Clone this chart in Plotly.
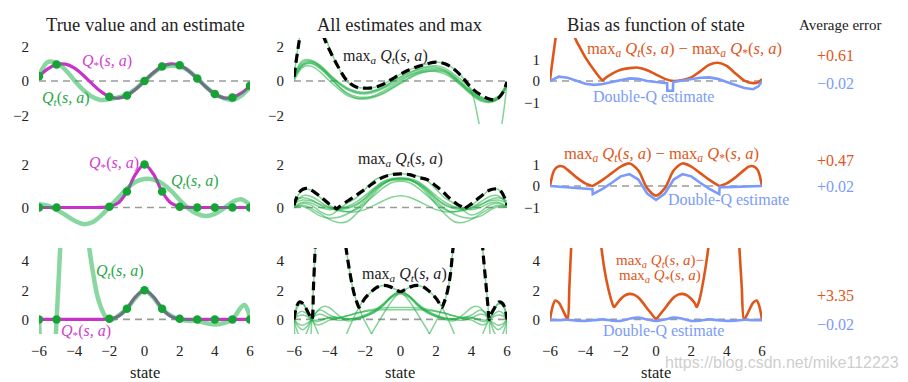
import plotly.graph_objects as go

# ---------------- data ----------------
STATES = [-6.0, -5.5, -5.0, -4.5, -4.0, -3.5, -3.0, -2.5, -2.0, -1.5, -1.0, -0.5, 0.0,
          0.5, 1.0, 1.5, 2.0, 2.5, 3.0, 3.5, 4.0, 4.5, 5.0, 5.5, 6.0]
SAMPLE_STATES = [-6, -5, -2, -1, 0, 1, 2, 3, 4, 5, 6]

# row 1: true value is a sine
QSTAR_1 = [0.28, 0.71, 0.96, 0.98, 0.76, 0.35, -0.14, -0.60, -0.91, -1.00, -0.84, -0.48, 0.00,
           0.48, 0.84, 1.00, 0.91, 0.60, 0.14, -0.35, -0.76, -0.98, -0.96, -0.71, -0.28]
QT_1 = [0.3, 1.1, 1.05, 0.65, 0.05, -0.5, -0.9, -1.1, -1.05, -0.95, -0.8, -0.45, 0.0,
        0.45, 0.8, 0.88, 0.85, 0.6, 0.15, -0.35, -0.75, -1.0, -1.1, -0.85, -0.35]
DOTS_1 = [0.28, 0.96, -0.91, -0.84, 0.0, 0.84, 0.91, 0.14, -0.76, -0.96, -0.28]

# rows 2 and 3: true value is a bump
QSTAR_2 = [0, 0, 0, 0, 0, 0, 0, 0.004, 0.04, 0.21, 0.74, 1.56, 2.0,
           1.56, 0.74, 0.21, 0.04, 0.004, 0, 0, 0, 0, 0, 0, 0]
DOTS_2 = [0, 0, 0.04, 0.74, 2.0, 0.74, 0.04, 0, 0, 0, 0]
QT_2 = [0.15, 0.08, -0.1, -0.35, -0.6, -0.77, -0.7, -0.4, 0.02, 0.45, 0.88, 1.2, 1.33,
        1.3, 1.12, 0.78, 0.35, -0.05, -0.3, -0.4, -0.3, -0.05, 0.25, 0.38, 0.12]
QT3_S = [-6.0, -5.95, -5.8, -5.5, -5.2, -5.05, -5.0, -4.9, -4.8, -4.6, -4.0, -3.5, -3.3, -3.14,
         -2.9, -2.7, -2.5, -2.3, -2.1, -1.8, -1.5, -1.0, -0.5, 0.0, 0.5, 1.0, 1.5, 2.0, 2.5,
         3.0, 3.5, 4.0, 4.5, 5.0, 5.3, 5.5, 5.7, 5.85, 6.0]
QT3_V = [0.0, -1.2, -3.5, -5.0, -3.0, -1.2, 0.0, 2.3, 4.8, 9.0, 14.0, 10.0, 7.0, 4.9,
         3.0, 1.7, 0.9, 0.35, 0.05, 0.0, 0.25, 0.74, 1.5, 2.0, 1.5, 0.72, 0.25, 0.0, -0.1,
         -0.1, -0.25, -0.35, -0.25, 0.0, 0.5, 0.85, 1.0, 0.7, 0.15]

# column 2, row 1: all estimates
EST_1 = [
    [0.2, 1.0, 1.1, 0.8, 0.3, -0.15, -0.5, -0.7, -0.75, -0.65, -0.45, -0.2, 0.1,
     0.35, 0.55, 0.7, 0.72, 0.6, 0.25, -0.2, -0.65, -1.0, -1.15, -1.0, -0.2],
    [0.3, 1.1, 1.15, 0.85, 0.35, -0.1, -0.45, -0.65, -0.7, -0.6, -0.4, -0.1, 0.2,
     0.45, 0.65, 0.78, 0.8, 0.65, 0.3, -0.15, -0.6, -0.95, -1.1, -0.95, -0.15],
    [0.1, 0.9, 1.0, 0.7, 0.2, -0.3, -0.7, -0.9, -0.95, -0.85, -0.6, -0.3, 0.0,
     0.3, 0.5, 0.62, 0.65, 0.55, 0.2, -0.25, -0.7, -1.05, -1.2, -1.05, -0.3],
    [0.0, 0.8, 0.85, 0.5, 0.0, -0.45, -0.85, -1.0, -1.0, -0.9, -0.7, -0.4, -0.1,
     0.2, 0.45, 0.55, 0.55, 0.4, 0.1, -0.35, -0.8, -1.15, -1.25, -1.05, -0.25],
    [0.25, 3.5, 5.0, 3.6, 1.9, 0.8, -0.05, -0.35, -0.42, -0.38, -0.2, 0.1, 0.4,
     0.65, 0.85, 1.0, 1.1, 1.0, 0.7, 0.2, -0.6, -2.8, -4.5, -3.5, -0.1],
    [0.2, 0.95, 1.05, 0.75, 0.25, -0.3, -0.75, -1.0, -1.05, -0.95, -0.75, -0.45, -0.15,
     0.15, 0.4, 0.55, 0.6, 0.5, 0.15, -0.3, -0.75, -1.1, -1.2, -1.0, -0.2],
    [0.35, 1.2, 1.2, 0.9, 0.4, -0.05, -0.4, -0.6, -0.65, -0.55, -0.35, -0.05, 0.25,
     0.5, 0.7, 0.85, 0.88, 0.75, 0.4, 0.0, -0.5, -0.9, -1.05, -0.9, -0.1],
]
MAX1_S = [-6.0, -5.8, -5.6, -5.0, -4.5, -4.3, -4.0, -3.5, -3.0, -2.5, -2.0, -1.5, -1.0, -0.5,
          0.0, 0.5, 1.0, 1.5, 2.0, 2.5, 3.0, 3.5, 4.0, 4.5, 5.0, 5.25, 5.5, 5.75, 6.0]
MAX1_V = [0.25, 1.7, 2.9, 5.0, 3.3, 2.5, 1.8, 0.8, 0.0, -0.35, -0.42, -0.38, -0.2, 0.1,
          0.4, 0.65, 0.85, 1.0, 1.1, 1.0, 0.7, 0.2, -0.4, -0.8, -1.05, -1.1, -1.0, -0.7, -0.05]

# column 2, row 2
EST_2 = [
    [0.0, 0.2, 0.1, -0.2, -0.35, -0.1, 0.2, 0.45, 0.85, 1.25, 1.45, 1.55, 1.57,
     1.55, 1.45, 1.25, 0.85, 0.45, 0.2, -0.1, -0.35, -0.2, 0.1, 0.2, 0.0],
    [0.1, 0.85, 0.8, 0.45, 0.1, -0.1, -0.2, -0.2, -0.1, 0.1, 0.3, 0.48, 0.55,
     0.48, 0.3, 0.1, -0.1, -0.2, -0.2, -0.1, 0.1, 0.45, 0.8, 0.85, 0.1],
    [0.2, 0.35, 0.3, 0.15, 0.0, -0.05, 0.0, 0.15, 0.45, 0.85, 1.15, 1.3, 1.32,
     1.3, 1.15, 0.85, 0.45, 0.15, 0.0, -0.05, 0.0, 0.15, 0.3, 0.35, 0.2],
    [0.3, 0.45, 0.35, 0.1, -0.05, -0.1, -0.05, 0.1, 0.4, 0.8, 1.1, 1.25, 1.28,
     1.25, 1.1, 0.8, 0.4, 0.1, -0.05, -0.1, -0.05, 0.1, 0.35, 0.45, 0.3],
    [0.05, 0.25, 0.2, 0.0, -0.1, -0.05, 0.05, 0.25, 0.55, 0.9, 1.2, 1.35, 1.38,
     1.35, 1.2, 0.9, 0.55, 0.25, 0.05, -0.05, -0.1, 0.0, 0.2, 0.25, 0.05],
    [0.0, 0.1, -0.05, -0.3, -0.55, -0.7, -0.65, -0.3, 0.15, 0.65, 1.05, 1.3, 1.35,
     1.3, 1.05, 0.65, 0.15, -0.3, -0.65, -0.7, -0.55, -0.3, -0.05, 0.1, 0.0],
    [0.15, 0.55, 0.5, 0.25, 0.0, -0.15, -0.2, -0.1, 0.2, 0.55, 0.9, 1.15, 1.22,
     1.15, 0.9, 0.55, 0.2, -0.1, -0.2, -0.15, 0.0, 0.25, 0.5, 0.55, 0.15],
    [0.0, 0.05, -0.15, -0.4, -0.5, -0.45, -0.3, -0.05, 0.3, 0.75, 1.1, 1.3, 1.35,
     1.3, 1.1, 0.75, 0.3, -0.05, -0.3, -0.45, -0.5, -0.4, -0.15, 0.05, 0.0],
]
MAX2_S = [-6.0, -5.75, -5.5, -5.25, -5.0, -4.5, -4.0, -3.7, -3.6, -3.5, -3.2, -2.8, -2.4, -2.0,
          -1.5, -1.0, -0.5, 0.0, 0.5, 1.0, 1.5, 2.0, 2.4, 2.8, 3.2, 3.5, 3.6, 3.7, 4.0, 4.5,
          5.0, 5.25, 5.5, 5.75, 6.0]
MAX2_V = [0.1, 0.65, 0.85, 0.89, 0.8, 0.5, 0.15, 0.0, -0.07, 0.0, 0.18, 0.4, 0.62, 0.85,
          1.15, 1.4, 1.53, 1.56, 1.53, 1.4, 1.3, 1.0, 0.72, 0.4, 0.15, 0.0, -0.08, 0.0, 0.17, 0.5,
          0.8, 0.86, 0.85, 0.65, 0.1]

# column 2, row 3
GRID_3 = [-6, -5.75, -5.5, -5.25, -5, -4.75, -4.5, -4.25, -4, -3.5, -3, -2.5, -2, -1.5, -1, -0.5, 0,
          0.5, 1, 1.5, 2, 2.5, 3, 3.5, 4, 4.25, 4.5, 4.75, 5, 5.25, 5.5, 5.75, 6]
EST_3 = [
    [0.0, 0.45, 0.55, 0.35, 0.0, -0.15, -0.1, 0.05, 0.15, 0.15, 0.05, 0.05, 0.2, 0.45, 0.9, 1.55, 1.9,
     1.55, 0.9, 0.45, 0.2, 0.05, 0.05, 0.15, 0.15, 0.05, -0.1, -0.15, 0.0, 0.35, 0.55, 0.45, 0.0],
    [0.0, -0.5, -0.7, -0.45, 0.0, 0.3, 0.35, 0.25, 0.1, -0.05, 0.0, 0.1, 0.3, 0.6, 1.05, 1.6, 1.85,
     1.6, 1.05, 0.6, 0.3, 0.1, 0.0, -0.05, 0.1, 0.25, 0.35, 0.3, 0.0, -0.45, -0.7, -0.5, 0.0],
    [0.0, 0.95, 1.05, 0.6, 0.0, -0.35, -0.35, -0.2, -0.05, 0.1, 0.25, 0.42, 0.58, 0.7, 0.78, 0.82, 0.82,
     0.82, 0.78, 0.7, 0.58, 0.42, 0.25, 0.1, -0.05, -0.2, -0.35, -0.35, 0.0, 0.6, 1.05, 0.95, 0.0],
    [0.0, -1.0, -1.3, -0.8, 0.0, 0.5, 0.65, 0.5, 0.3, 0.1, 0.25, 0.42, 0.55, 0.62, 0.66, 0.67, 0.67,
     0.67, 0.66, 0.62, 0.55, 0.42, 0.25, 0.1, 0.3, 0.5, 0.65, 0.5, 0.0, -0.8, -1.3, -1.0, 0.0],
    [0.0, 0.25, 0.3, 0.2, 0.0, -0.05, 0.0, 0.05, 0.1, 0.08, 0.05, 0.08, 0.25, 0.55, 1.0, 1.6, 1.95,
     1.6, 1.0, 0.55, 0.25, 0.08, 0.05, 0.08, 0.1, 0.05, 0.0, -0.05, 0.0, 0.2, 0.3, 0.25, 0.0],
    [0.0, -0.3, -0.4, -0.25, 0.0, 0.45, 0.8, 0.9, 0.8, 0.3, -0.1, 0.0, 0.2, 0.5, 0.95, 1.5, 1.75,
     1.5, 0.95, 0.5, 0.2, 0.0, -0.1, 0.3, 0.8, 0.9, 0.8, 0.45, 0.0, -0.25, -0.4, -0.3, 0.0],
]
WILD_3 = [
    ([-3.2, -2.9, -2.6, -2.34, -2.0, -1.6, -1.3, -0.95, -0.6, -0.3, 0.0, 0.4, 0.8, 1.2, 1.5, 1.8],
     [-1.5, -0.6, 0.2, 0.82, 1.45, 1.95, 2.22, 2.33, 2.25, 2.07, 1.9, 1.4, 0.7, -0.1, -0.7, -1.4]),
    ([-1.8, -1.5, -1.2, -0.8, -0.4, 0.0, 0.3, 0.6, 0.95, 1.3, 1.6, 2.0, 2.34, 2.6, 2.9, 3.2],
     [-1.4, -0.7, -0.1, 0.7, 1.4, 1.9, 2.07, 2.25, 2.33, 2.22, 1.95, 1.45, 0.82, 0.2, -0.6, -1.5]),
    ([-6.0, -5.95, -5.8, -5.5, -5.2, -5.05, -5.0, -4.9, -4.8, -4.6, -4.0, -3.5, -3.3, -3.07,
      -2.85, -2.6, -2.34, -2.1, -1.8, -1.5],
     [0.0, -1.2, -3.5, -5.0, -3.0, -1.2, 0.0, 2.3, 5.0, 9.0, 14.0, 10.0, 7.0, 4.9,
      3.2, 1.7, 0.82, 0.1, -0.6, -1.3]),
    ([1.5, 1.8, 2.1, 2.34, 2.6, 2.8, 2.96, 3.2, 3.5, 4.0, 4.4, 4.63, 4.8, 4.92, 5.0, 5.05,
      5.2, 5.5, 5.8, 5.95, 6.0],
     [-1.3, -0.6, 0.1, 0.82, 1.7, 3.0, 4.9, 7.5, 11.0, 14.0, 9.0, 4.9, 2.6, 1.0, 0.0, -1.2,
      -3.0, -5.0, -3.5, -1.2, 0.0]),
    ([-6.0, -5.85, -5.7, -5.5, -5.3, -5.15, -5.0, -4.8, -4.6, -4.4],
     [0.0, 0.9, 1.2, 1.1, 0.7, 0.35, 0.0, -0.5, -1.1, -1.8]),
    ([4.4, 4.6, 4.8, 5.0, 5.15, 5.3, 5.5, 5.7, 5.85, 6.0],
     [-1.8, -1.1, -0.5, 0.0, 0.35, 0.7, 1.1, 1.2, 0.9, 0.0]),
]
MAX3_S = [-6.0, -5.85, -5.7, -5.5, -5.3, -5.15, -5.0, -4.9, -4.8, -4.6, -4.0, -3.5, -3.3, -3.07,
          -2.85, -2.6, -2.42, -2.34, -2.25, -2.0, -1.6, -1.3, -0.95, -0.6, -0.3, -0.08, 0.0,
          0.08, 0.3, 0.6, 0.95, 1.3, 1.6, 2.0, 2.25, 2.34, 2.42, 2.6, 2.8, 2.96, 3.2, 3.5, 4.0,
          4.4, 4.63, 4.8, 4.92, 5.0, 5.1, 5.3, 5.55, 5.7, 5.85, 6.0]
MAX3_V = [0.0, 0.9, 1.2, 1.1, 0.7, 0.35, 0.0, 2.3, 5.0, 9.0, 14.0, 10.0, 7.0, 4.9,
          3.2, 1.7, 1.05, 0.82, 0.98, 1.45, 1.95, 2.22, 2.33, 2.25, 2.07, 1.93, 1.9,
          1.93, 2.07, 2.25, 2.33, 2.22, 1.95, 1.45, 0.98, 0.82, 1.05, 1.7, 3.0, 4.9, 7.5, 11.0, 14.0,
          9.0, 4.9, 2.6, 1.0, 0.0, 0.35, 0.8, 1.2, 1.15, 0.9, 0.0]

# column 3: bias of max estimate and of double-Q estimate
BIAS1_S = [-6.0, -5.85, -5.7, -5.5, -5.0, -4.6, -4.3, -4.0, -3.5, -3.1, -3.02, -2.95, -2.5, -2.0,
           -1.5, -1.0, -0.5, 0.0, 0.5, 1.0, 1.5, 2.0, 2.5, 3.0, 3.5, 4.0, 4.5, 5.0, 5.5, 5.8, 6.0]
BIAS1_V = [0.05, 1.0, 1.9, 3.2, 4.5, 2.05, 1.55, 1.1, 0.5, 0.08, 0.02, 0.08, 0.33, 0.52,
           0.6, 0.62, 0.5, 0.3, 0.1, 0.0, 0.05, 0.17, 0.45, 0.75, 0.85, 0.7, 0.35, 0.02, -0.1, -0.05, 0.08]
DQ1_S = [-6.0, -5.5, -5.0, -4.5, -4.0, -3.5, -3.0, -2.5, -2.0, -1.5, -1.0, -0.5, 0.0, 0.5, 0.63,
         0.64, 0.96, 0.97, 1.5, 2.0, 2.5, 3.0, 3.5, 4.0, 4.5, 5.0, 5.5, 5.8, 6.0]
DQ1_V = [0.0, 0.2, 0.15, 0.0, -0.13, -0.18, -0.14, -0.05, 0.05, 0.12, 0.1, 0.0, -0.05, -0.1, -0.1,
         -0.45, -0.45, -0.05, 0.02, 0.1, 0.15, 0.17, 0.1, -0.05, -0.2, -0.33, -0.38, -0.25, 0.0]

BIAS2_S = [-6.0, -5.75, -5.5, -5.25, -5.0, -4.5, -4.0, -3.7, -3.6, -3.5, -3.0, -2.5, -2.0, -1.5,
           -1.0, -0.5, 0.0, 0.5, 1.0, 1.5, 2.0, 2.5, 3.0, 3.5, 3.6, 3.7, 4.0, 4.5, 5.0, 5.25,
           5.5, 5.75, 6.0]
BIAS2_V = [0.0, 0.75, 0.92, 0.9, 0.75, 0.4, 0.12, 0.03, 0.0, 0.04, 0.3, 0.6, 0.9, 1.05,
           0.72, -0.1, -0.45, -0.1, 0.72, 1.05, 0.9, 0.6, 0.3, 0.04, 0.0, 0.03, 0.12, 0.4, 0.75, 0.9,
           0.92, 0.75, 0.0]
DQ2_S = [-6.0, -5.5, -5.0, -4.5, -4.0, -3.6, -3.58, -3.0, -2.5, -2.0, -1.5, -1.0, -0.5, 0.0,
         0.5, 1.0, 1.5, 2.0, 2.5, 3.0, 3.58, 3.6, 4.0, 4.5, 5.0, 5.5, 6.0]
DQ2_V = [0.0, -0.03, -0.05, -0.08, -0.12, -0.15, -0.38, -0.12, 0.15, 0.45, 0.55, 0.3, -0.35, -0.65,
         -0.35, 0.3, 0.55, 0.45, 0.15, -0.12, -0.38, -0.05, -0.05, -0.04, -0.03, -0.02, 0.0]

BIAS3_S = [-6.0, -5.85, -5.7, -5.5, -5.3, -5.1, -5.0, -4.9, -4.8, -4.6, -4.0, -3.5, -3.3, -3.1,
           -2.9, -2.7, -2.5, -2.38, -2.2, -2.0, -1.75, -1.5, -1.25, -1.0, -0.75, -0.5, -0.25,
           -0.05, 0.0, 0.05, 0.25, 0.5, 0.75, 1.0, 1.25, 1.5, 1.75, 2.0, 2.2, 2.3, 2.45, 2.7,
           2.96, 3.2, 3.5, 4.0, 4.5, 4.72, 4.85, 4.98, 5.1, 5.3, 5.5, 5.7, 5.85, 6.0]
BIAS3_V = [0.0, 0.9, 1.3, 1.15, 0.7, 0.2, 0.0, 2.3, 5.0, 9.0, 15.0, 10.0, 7.0, 5.0,
           3.3, 2.1, 1.2, 0.85, 1.1, 1.4, 1.65, 1.75, 1.7, 1.5, 1.15, 0.75, 0.37,
           0.07, 0.0, 0.07, 0.37, 0.75, 1.15, 1.5, 1.7, 1.75, 1.65, 1.4, 1.1, 0.85, 1.3, 2.8,
           4.9, 8.0, 12.0, 15.0, 9.0, 4.9, 2.3, 0.0, 0.2, 0.7, 1.15, 1.3, 0.9, 0.0]
DQ3_V = [-0.05, -0.05, -0.02, -0.08, -0.1, -0.05, 0.0, -0.08, -0.1, 0.05, 0.12, 0.0, -0.1,
         0.0, 0.12, 0.05, -0.1, -0.08, 0.0, -0.05, -0.1, -0.08, -0.02, -0.05, -0.05]

AVG_MAX = ["+0.61", "+0.47", "+3.35"]
AVG_DQ = ["\u22120.02", "+0.02", "\u22120.02"]

# ---------------- styling ----------------
SERIF = "Liberation Serif"
MAGENTA = "#c832c8"
DOT_GREEN = "#16a335"
QT_GREEN = "rgba(20,175,65,0.5)"
THIN_GREEN = "rgba(30,175,65,0.55)"
LABEL_GREEN = "#2aa84a"
ORANGE = "#df561a"
BLUE = "#7b9bfa"
GREY = "#9a9a9a"
W, H = 908, 382

XD = [(39 / W, 250 / W), (294 / W, 507 / W), (550 / W, 762 / W)]
ROWS_PX = [(38, 124), (143, 229), (248, 334)]
YD = [(1 - b / H, 1 - t / H) for (t, b) in ROWS_PX]
YR = [[[-2.5, 2.5], [-2.5, 2.5], [-2, 2]],
      [[-1, 3], [-1, 3], [-2, 2]],
      [[-1, 4.9], [-1, 4.9], [-1, 4.9]]]
YT = [[[-2, 0, 2], [-2, 0, 2], [-1, 0, 1]],
      [[0, 2], [0, 2], [-1, 0, 1]],
      [[0, 2, 4], [0, 2, 4], [0, 2, 4]]]

fig = go.Figure()
layout = dict(width=W, height=H, margin=dict(l=0, r=0, t=0, b=0, autoexpand=False),
              autosize=False,
              plot_bgcolor="white", paper_bgcolor="white", showlegend=False,
              font=dict(family=SERIF, color="#222"))


def ax(r, c):
    return 3 * r + c + 1


for r in range(3):
    for c in range(3):
        n = ax(r, c)
        layout[f"xaxis{n}"] = dict(domain=XD[c], range=[-6, 6], anchor=f"y{n}", showgrid=False,
                                   zeroline=False, showline=False, ticks="", automargin=False,
                                   tickvals=[-6, -4, -2, 0, 2, 4, 6], showticklabels=(r == 2),
                                   tickfont=dict(size=15, family=SERIF, color="#222"),
                                   ticklabelstandoff=6)
        layout[f"yaxis{n}"] = dict(domain=YD[r], range=YR[r][c], anchor=f"x{n}", showgrid=False,
                                   zeroline=False, showline=False, ticks="", automargin=False,
                                   tickvals=YT[r][c],
                                   tickfont=dict(size=15, family=SERIF, color="#222"),
                                   ticklabelstandoff=9)


def add(r, c, **kw):
    n = ax(r, c)
    kw.setdefault("mode", "lines")
    fig.add_trace(go.Scatter(xaxis=f"x{n}", yaxis=f"y{n}", hoverinfo="skip", **kw))


def zero(r, c):
    add(r, c, x=[-6, 6], y=[0, 0], line=dict(color=GREY, width=1.6, dash="7px,5px"))


# column 1
col1 = [(QSTAR_1, STATES, QT_1, DOTS_1), (QSTAR_2, STATES, QT_2, DOTS_2),
        (QSTAR_2, QT3_S, QT3_V, DOTS_2)]
for r, (qs, qts, qtv, dots) in enumerate(col1):
    zero(r, 0)
    add(r, 0, x=STATES, y=qs, line=dict(color=MAGENTA, width=3.2, shape="spline"))
    add(r, 0, x=qts, y=qtv, line=dict(color=QT_GREEN, width=4.5, shape="spline"))
    add(r, 0, x=SAMPLE_STATES, y=dots, mode="markers",
        marker=dict(color=DOT_GREEN, size=8.5))

# column 2
for r, (ests, ms, mv) in enumerate([(EST_1, MAX1_S, MAX1_V), (EST_2, MAX2_S, MAX2_V)]):
    zero(r, 1)
    for e in ests:
        add(r, 1, x=STATES, y=e, line=dict(color=THIN_GREEN, width=1.5, shape="spline"))
    add(r, 1, x=ms, y=mv, line=dict(color="black", width=3.2, dash="9px,5px", shape="spline"))
zero(2, 1)
for e in EST_3:
    add(2, 1, x=GRID_3, y=e, line=dict(color=THIN_GREEN, width=1.5, shape="spline"))
for (ws, wv) in WILD_3:
    add(2, 1, x=ws, y=wv, line=dict(color=THIN_GREEN, width=1.5, shape="spline"))
add(2, 1, x=MAX3_S, y=MAX3_V, line=dict(color="black", width=3.2, dash="9px,5px", shape="spline"))

# column 3
col3 = [(BIAS1_S, BIAS1_V, DQ1_S, DQ1_V, "linear"), (BIAS2_S, BIAS2_V, DQ2_S, DQ2_V, "linear"),
        (BIAS3_S, BIAS3_V, STATES, DQ3_V, "spline")]
for r, (bs, bv, ds, dv, dshape) in enumerate(col3):
    zero(r, 2)
    add(r, 2, x=bs, y=bv, line=dict(color=ORANGE, width=2.6, shape="spline", smoothing=0.9))
    add(r, 2, x=ds, y=dv, line=dict(color=BLUE, width=2.6, shape=dshape))

# ---------------- text ----------------
ann = []


def txt(text, x, y, r, c, color, size=15):
    n = ax(r, c)
    ann.append(dict(text=text, x=x, y=y, xref=f"x{n}", yref=f"y{n}", showarrow=False,
                    font=dict(family=SERIF, size=size, color=color),
                    xanchor="center", yanchor="middle"))


def ptxt(text, xpx, ypx, color="#222", size=15, family=SERIF):
    ann.append(dict(text=text, x=xpx / W, y=1 - ypx / H, xref="paper", yref="paper",
                    showarrow=False, font=dict(family=family, size=size, color=color),
                    xanchor="center", yanchor="middle"))


QS_LBL = "<i>Q</i><sub>*</sub>(<i>s, a</i>)"
QT_LBL = "<i>Q<sub>t</sub></i>(<i>s, a</i>)"
MAX_LBL = "max<sub><i>a</i></sub> <i>Q<sub>t</sub></i>(<i>s, a</i>)"
MAXS_LBL = "max<sub><i>a</i></sub> <i>Q</i><sub>*</sub>(<i>s, a</i>)"

ptxt("True value and an estimate", 145, 25, size=18.5)
ptxt("All estimates and max", 400, 25, size=18.5)
ptxt("Bias as function of state", 656, 25, size=18.5)
ptxt("Average error", 840, 25, size=15)
for cx in (145, 400, 656):
    ptxt("state", cx, 372, size=16.5)

txt(QS_LBL, -2.13, 1.16, 0, 0, "#d040d0", 16)
txt(QT_LBL, -4.46, -1.0, 0, 0, LABEL_GREEN, 16)
txt(QS_LBL, -1.73, 2.07, 1, 0, "#d040d0", 16)
txt(QT_LBL, 2.85, 1.19, 1, 0, LABEL_GREEN, 16)
txt(QT_LBL, -1.4, 3.27, 2, 0, LABEL_GREEN, 16)
txt(QS_LBL, -3.35, -0.8, 2, 0, "#d040d0", 16)

txt(MAX_LBL, -0.87, 1.45, 0, 1, "#222", 16)
txt(MAX_LBL, 0.0, 2.24, 1, 1, "#222", 16)
txt(MAX_LBL, 0.25, 3.1, 2, 1, "#222", 16)

txt(MAX_LBL + " \u2212 " + MAXS_LBL, 1.61, 1.47, 0, 2, ORANGE, 16.5)
txt("Double-Q estimate", -0.13, -0.73, 0, 2, BLUE, 16)
txt(MAX_LBL + " \u2212 " + MAXS_LBL, 0.3, 1.47, 1, 2, ORANGE, 16.5)
txt("Double-Q estimate", 4.1, -0.65, 1, 2, BLUE, 16)
txt(MAX_LBL + "\u2212", 0.2, 4.02, 2, 2, ORANGE, 15)
txt(MAXS_LBL, 0.25, 3.0, 2, 2, ORANGE, 15)
txt("Double-Q estimate", 0.4, -0.78, 2, 2, BLUE, 16)

for ypx, t in zip([55, 160.7, 295.7], AVG_MAX):
    ptxt(t, 835, ypx, color=ORANGE, size=16)
for ypx, t in zip([83.3, 186.7, 324.3], AVG_DQ):
    ptxt(t, 835, ypx, color=BLUE, size=16)

ptxt("https://blog.csdn.net/mike112223", 782, 362, color="rgba(200,200,200,0.9)", size=16,
     family="Liberation Sans")

layout["annotations"] = ann
fig.update_layout(**layout)
fig.write_html("out.html",
               config={"displayModeBar": False, "staticPlot": True},
               post_script="document.body.style.margin='0';"
                           "document.body.style.overflow='hidden';"
                           "document.documentElement.style.overflow='hidden';")
